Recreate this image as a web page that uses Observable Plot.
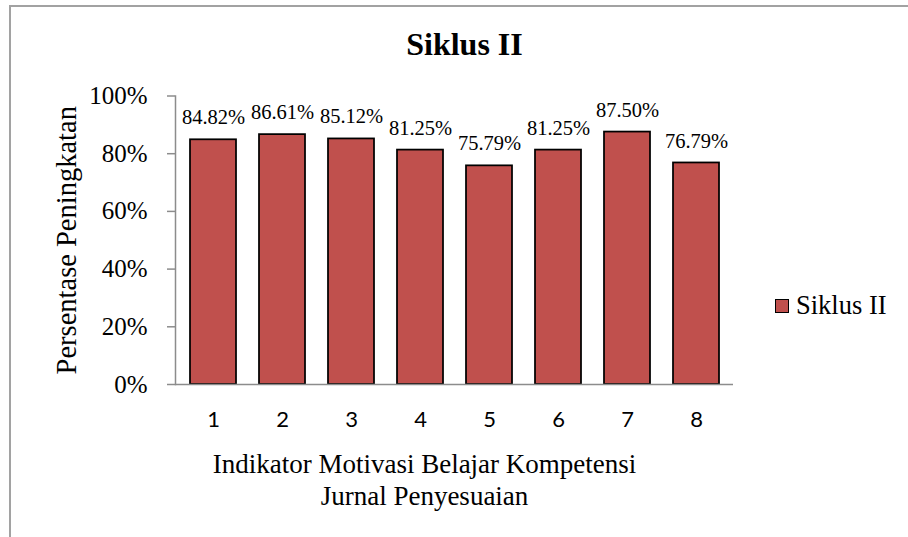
<!DOCTYPE html>
<html>
<head>
<meta charset="utf-8">
<script src="https://cdn.jsdelivr.net/npm/d3@7"></script>
<script src="https://cdn.jsdelivr.net/npm/@observablehq/plot@0.6"></script>
<style>
  html, body { margin: 0; padding: 0; background: #fff; }
  #wrap { position: relative; width: 908px; height: 537px; overflow: hidden; background: #fff; }
  #border { position: absolute; left: 9px; top: 5px; right: -10px; bottom: -10px;
            border-left: 2px solid #a2a2a2; border-top: 2px solid #a2a2a2; pointer-events: none; }
  #chart { position: absolute; left: 0; top: 0; }
  #legend { position: absolute; left: 775px; top: 290px; display: flex; align-items: center;
            font-family: "Liberation Serif", "Times New Roman", serif; font-size: 26.5px; color: #000; }
  #legend .sw { width: 12px; height: 12px; background: #C0504D; border: 1.5px solid #000; margin-right: 7px; }
</style>
</head>
<body>
<div id="wrap">
  <div id="chart"></div>
  <div id="border"></div>
  <div id="legend"><span class="sw"></span><span>Siklus II</span></div>
</div>
<script>
const indicators = ["1", "2", "3", "4", "5", "6", "7", "8"];
const siklusII = [84.82, 86.61, 85.12, 81.25, 75.79, 81.25, 87.50, 76.79];
const yTicks = [0, 20, 40, 60, 80, 100];
const chartTitle = "Siklus II";
const yTitle = "Persentase Peningkatan";
const xTitle = "Indikator Motivasi Belajar Kompetensi\nJurnal Penyesuaian";

const data = indicators.map((k, i) => ({k, v: siklusII[i]}));
const serif = "Liberation Serif, Times New Roman, serif";

const chart = Plot.plot({
  width: 908,
  height: 537,
  marginLeft: 175,
  marginRight: 175,
  marginTop: 95.5,
  marginBottom: 153,
  style: {fontFamily: serif, background: "transparent", color: "#000"},
  x: {domain: indicators, paddingInner: 0.34, paddingOuter: 0.17, label: null},
  y: {domain: [0, 100], label: null},
  marks: [
    Plot.barY(data, {x: "k", y: "v", fill: "#C0504D", stroke: "#000", strokeWidth: 1.75}),
    Plot.frame({anchor: "left", stroke: "#8c8c8c", strokeWidth: 1.5}),
    Plot.ruleY([0], {stroke: "#8c8c8c", strokeWidth: 1.5}),
    Plot.axisY(yTicks, {tickSize: 8, tickPadding: 20, tickFormat: d => d + "%", fontSize: 25,
      fontFamily: serif, stroke: "#8c8c8c", strokeWidth: 1.5, fill: "#000", label: null}),
    Plot.axisX({tickSize: 0, tickPadding: 27, fontSize: 22, fontFamily: "Lato, Noto Sans, sans-serif",
      fill: "#000", label: null}),
    Plot.text(data, {x: "k", y: "v", text: d => d.v.toFixed(2) + "%", dy: -22, lineAnchor: "middle",
      fontSize: 20.5, fontFamily: serif, fill: "#000"}),
    Plot.text([chartTitle], {frameAnchor: "top", dx: 10, dy: -51.5, lineAnchor: "middle",
      textAnchor: "middle", fontSize: 32, fontWeight: "bold", fontFamily: serif, fill: "#000"}),
    Plot.text([yTitle], {frameAnchor: "left", dx: -109, rotate: -90, lineAnchor: "middle",
      textAnchor: "middle", fontSize: 28.5, fontFamily: serif, fill: "#000"}),
    Plot.text([xTitle], {frameAnchor: "bottom", dx: -30, dy: 66, lineAnchor: "top",
      textAnchor: "middle", lineHeight: 32 / 27, fontSize: 27, fontFamily: serif, fill: "#000"})
  ]
});
document.getElementById("chart").appendChild(chart);
</script>
</body>
</html>
